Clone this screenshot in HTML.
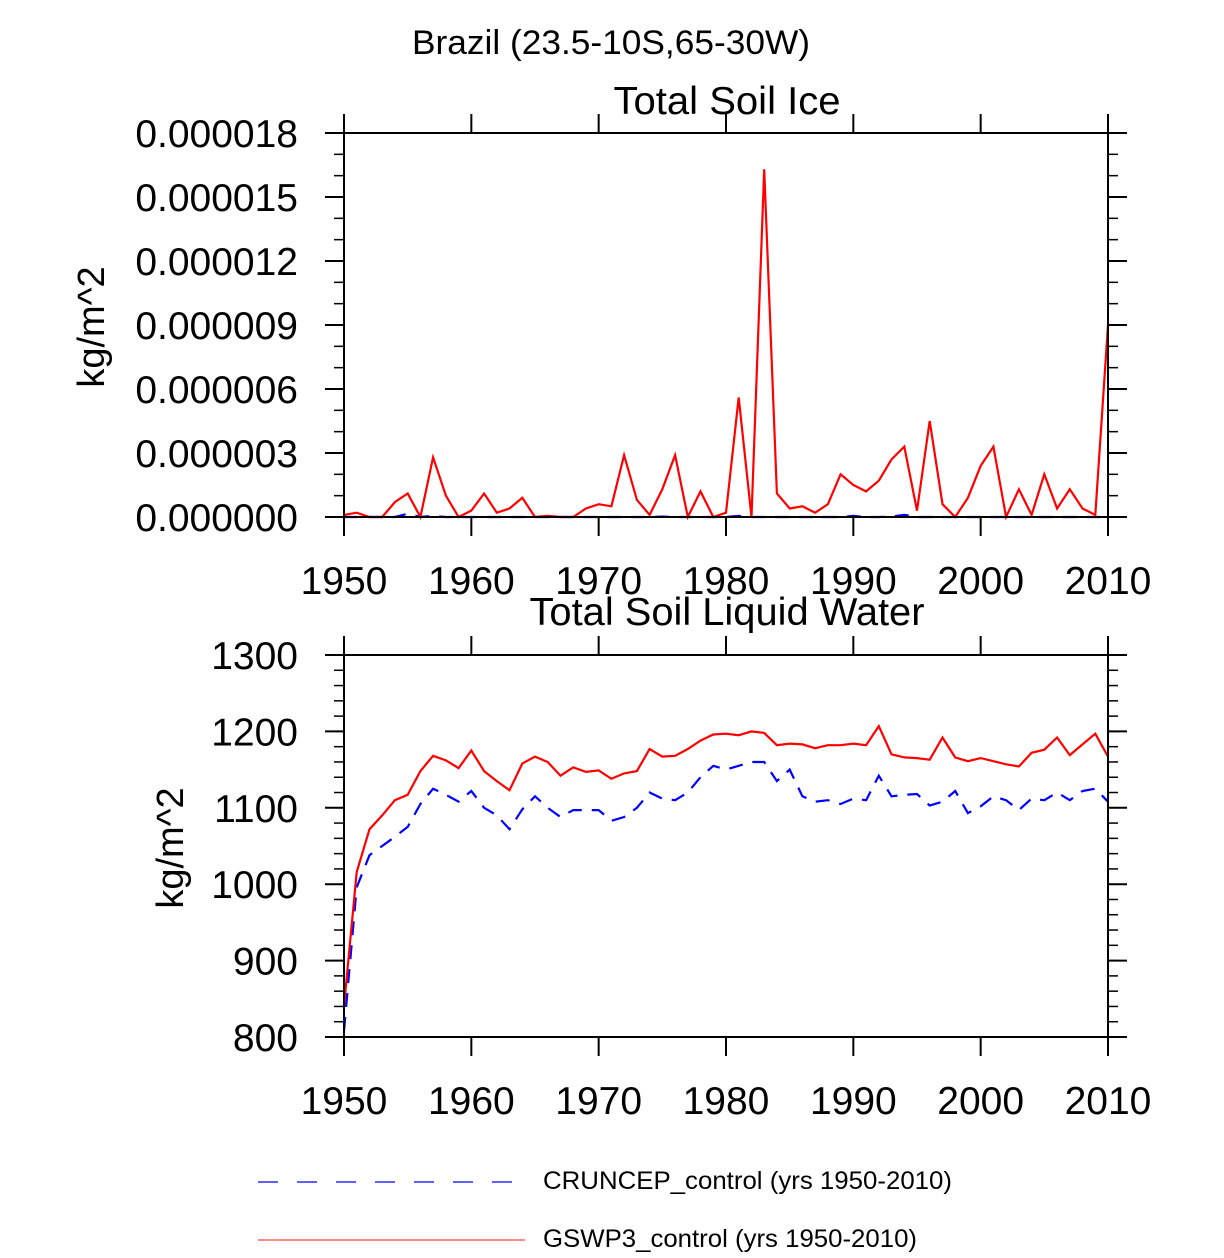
<!DOCTYPE html>
<html><head><meta charset="utf-8"><style>
html,body{margin:0;padding:0;background:#fff;}
svg text{font-family:"Liberation Sans",sans-serif;fill:#000;}
</style></head><body>
<svg id="chart" width="1224" height="1253" viewBox="0 0 1224 1253" xmlns="http://www.w3.org/2000/svg">
<text x="611" y="54" font-size="34" text-anchor="middle" textLength="398" lengthAdjust="spacingAndGlyphs">Brazil (23.5-10S,65-30W)</text>
<g id="top"></g>
<g id="bot"></g>
<g>
<line x1="258" y1="1182" x2="515" y2="1182" stroke="#0000ff" stroke-width="1.3" stroke-dasharray="20,19"/>
<text x="543" y="1189" font-size="25" textLength="409" lengthAdjust="spacingAndGlyphs">CRUNCEP_control (yrs 1950-2010)</text>
<line x1="258" y1="1240" x2="525" y2="1240" stroke="#ff4040" stroke-width="1.3"/>
<text x="543" y="1247" font-size="25" textLength="374" lengthAdjust="spacingAndGlyphs">GSWP3_control (yrs 1950-2010)</text>
</g>
</svg>
<script>
const years = [];
for (let y = 1950; y <= 2010; y++) years.push(y);
const iceGSWP3 = [0.1,0.2,0,0,0.7,1.1,0,2.8,1.0,0,0.3,1.1,0.2,0.4,0.9,0,0.05,0,0,0.4,0.6,0.5,2.9,0.8,0.1,1.3,2.9,0,1.2,0,0.2,5.6,0,16.3,1.1,0.4,0.5,0.2,0.6,2.0,1.5,1.2,1.7,2.7,3.3,0.3,4.5,0.6,0,0.9,2.4,3.3,0,1.3,0.1,2.0,0.4,1.3,0.4,0.1,9.0];
const iceCRUNCEP = [0,0,0,0,0,0.15,0,0.05,0,0,0,0,0,0,0,0,0,0,0,0,0,0,0,0,0,0.02,0,0,0,0,0,0.05,0,0,0,0,0,0,0,0,0.05,0,0,0.02,0.1,0,0,0,0,0,0,0,0,0,0,0,0,0,0,0,0];
const liqGSWP3 = [840,1016,1072,1090,1110,1117,1148,1168,1162,1152,1175,1148,1135,1123,1158,1167,1160,1142,1153,1147,1149,1138,1145,1148,1177,1167,1168,1177,1188,1196,1197,1195,1200,1198,1182,1184,1183,1178,1182,1182,1184,1182,1207,1170,1166,1165,1163,1192,1166,1161,1165,1161,1157,1154,1172,1176,1192,1169,1183,1197,1167];
const liqCRUNCEP = [808,996,1038,1050,1062,1075,1105,1125,1117,1108,1122,1100,1090,1072,1098,1115,1100,1088,1097,1097,1097,1083,1088,1100,1120,1112,1110,1120,1140,1155,1150,1155,1160,1160,1135,1150,1115,1108,1110,1105,1112,1110,1142,1115,1117,1118,1103,1108,1122,1093,1102,1115,1110,1097,1112,1110,1120,1110,1122,1125,1108];
const xTicks = [1950,1960,1970,1980,1990,2000,2010];
const iceTickLabels = ["0.000000","0.000003","0.000006","0.000009","0.000012","0.000015","0.000018"];
const liqTicks = [800,900,1000,1100,1200,1300];

const NS = "http://www.w3.org/2000/svg";
function mk(parent, tag, attrs, text) {
  const e = document.createElementNS(NS, tag);
  for (const k in attrs) e.setAttribute(k, attrs[k]);
  if (text !== undefined) e.textContent = text;
  parent.appendChild(e);
  return e;
}
const X0 = 344, X1 = 1108;
const xs = v => X0 + (v - 1950) / 60 * (X1 - X0);

function panel(g, top, bot, ymin, ymax, yMajorVals, yMajorLabels, minorStep, title, titleY, titleW, ylabX, series) {
  const ys = v => bot - (v - ymin) / (ymax - ymin) * (bot - top);
  const t = mk(g, 'text', {x: 727, y: titleY, 'font-size': 39, 'text-anchor': 'middle', textLength: titleW, lengthAdjust: 'spacingAndGlyphs'}, title);
  
  
  const yl = mk(g, 'text', {x: 0, y: 0, 'font-size': 38, 'text-anchor': 'middle', transform: `translate(${ylabX},${(top+bot)/2 + 2}) rotate(-90)`}, 'kg/m^2');
  
  
  for (let v = ymin; v <= ymax + 1e-12; v += minorStep) {
    const y = ys(v);
    const m1 = mk(g, 'line', {x1: X0 - 10, y1: y, x2: X0, y2: y, stroke: '#000', 'stroke-width': 1.5});
    
    
    const m2 = mk(g, 'line', {x1: X1, y1: y, x2: X1 + 10, y2: y, stroke: '#000', 'stroke-width': 1.5});
    
    
  }
  yMajorVals.forEach((v, i) => {
    const y = ys(v);
    const a = mk(g, 'line', {x1: X0 - 19, y1: y, x2: X0, y2: y, stroke: '#000', 'stroke-width': 2});
    
    
    const b = mk(g, 'line', {x1: X1, y1: y, x2: X1 + 19, y2: y, stroke: '#000', 'stroke-width': 2});
    
    
    const l = mk(g, 'text', {x: X0 - 46, y: y + 14, 'font-size': 39, 'text-anchor': 'end'}, yMajorLabels ? yMajorLabels[i] : String(v));
    
    
  });
  xTicks.forEach(v => {
    const x = xs(v);
    const a = mk(g, 'line', {x1: x, y1: bot, x2: x, y2: bot + 19, stroke: '#000', 'stroke-width': 2});
    
    
    const b = mk(g, 'line', {x1: x, y1: top - 19, x2: x, y2: top, stroke: '#000', 'stroke-width': 2});
    
    
    const l = mk(g, 'text', {x: x, y: bot + 77, 'font-size': 39, 'text-anchor': 'middle'}, String(v));
    
    
  });
  series.forEach(s => {
    const pts = years.map((yr, i) => xs(yr).toFixed(1) + ',' + ys(s.data[i]).toFixed(1)).join(' ');
    const p = mk(g, 'polyline', {points: pts, fill: 'none', stroke: s.color, 'stroke-width': 2.2, 'stroke-linejoin': 'miter', 'stroke-dasharray': s.dash || 'none'});
    
    
  });
  const r = mk(g, 'rect', {x: X0, y: top, width: X1 - X0, height: bot - top, fill: 'none', stroke: '#000', 'stroke-width': 2});
  
  
}

panel(document.getElementById('top'), 133, 517, 0, 18, [0,3,6,9,12,15,18], iceTickLabels, 1,
  'Total Soil Ice', 114, 227, 104,
  [{data: iceCRUNCEP, color: '#0000ff', dash: '14,10', name: 'line-ice-cruncep'},
   {data: iceGSWP3, color: '#ff0000', name: 'line-ice-gswp3'}]);
panel(document.getElementById('bot'), 655, 1037, 800, 1300, liqTicks, null, 20,
  'Total Soil Liquid Water', 625, 395, 183,
  [{data: liqCRUNCEP, color: '#0000ff', dash: '14,10', name: 'line-liquid-cruncep'},
   {data: liqGSWP3, color: '#ff0000', name: 'line-liquid-gswp3'}]);
</script>
</body></html>
